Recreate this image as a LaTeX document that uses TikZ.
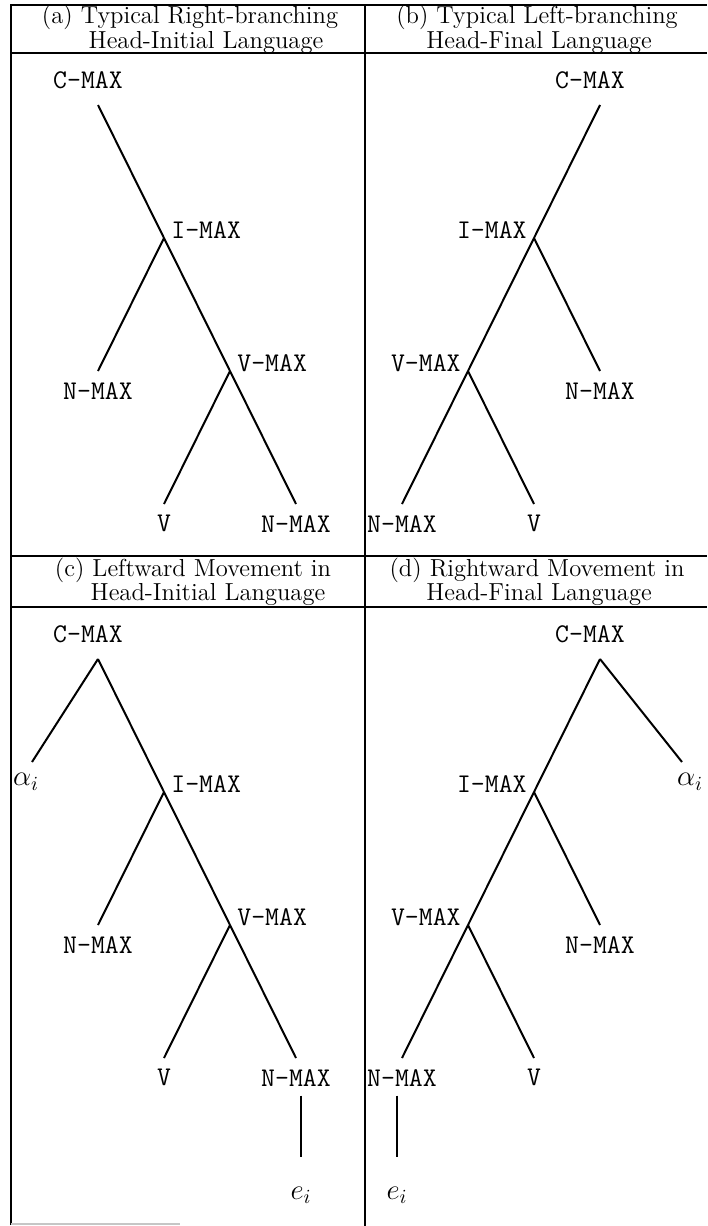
\documentclass[tikz,border=0pt]{standalone}
\usepackage{tikz}

\tikzset{
  tag/.style={font=\fontsize{13.5}{15}\selectfont\ttfamily, inner sep=1.5pt},
  mtag/.style={font=\fontsize{14}{16}\selectfont, inner sep=1.5pt},
  headtxt/.style={font=\fontsize{12.3}{11}\selectfont, inner sep=0pt, anchor=base},
  gridline/.style={line width=1pt},
  rootpt/.style={coordinate, label={[tag, label distance=6.5pt, xshift=-5pt]above:#1}},
  rjoin/.style={coordinate, label={[tag, anchor=base west, xshift=2pt]right:#1}},
  ljoin/.style={coordinate, label={[tag, anchor=base east, xshift=-2pt]left:#1}},
  leafpt/.style={coordinate, label={[tag, label distance=4pt]below:#1}}
}

\begin{document}
\begin{tikzpicture}[x=0.5pt, y=-0.5pt,
                    level distance=66.5pt, sibling distance=66pt,
                    edge from parent/.style={draw, line width=1pt}]
  \useasboundingbox (0,0) rectangle (707,1226);

  % table frame
  \draw[gridline] (11,1225) -- (11,5) -- (707,5);
  \draw[gridline] (365,5) -- (365,1226);
  \draw[gridline] (11,53) -- (707,53);
  \draw[gridline] (11,556) -- (707,556);
  \draw[gridline] (11,607) -- (707,607);
  \draw[gray!45, line width=0.6pt] (11,1224) -- (180,1224);

  % headings
  \node[headtxt] (ha1) at (190,24) {(a) Typical Right-branching};
  \node[headtxt] (ha2) at (206,48) {Head-Initial Language};
  \node[headtxt] (hb1) at (537,24) {(b) Typical Left-branching};
  \node[headtxt] (hb2) at (539,48) {Head-Final Language};
  \node[headtxt] (hc1) at (193,576) {(c) Leftward Movement in};
  \node[headtxt] (hc2) at (208,600) {Head-Initial Language};
  \node[headtxt] (hd1) at (537,576) {(d) Rightward Movement in};
  \node[headtxt] (hd2) at (539,600) {Head-Final Language};

  % (a)
  \node[rootpt=C-MAX] (cmaxa) at (98,105) {}
    child[missing] {}
    child {
      node[rjoin=I-MAX] (imaxa) {}
      child {
        node[leafpt=N-MAX] (nmaxa) {}
      }
      child {
        node[rjoin=V-MAX] (vmaxa) {}
        child {
          node[leafpt=V] (va) {}
        }
        child {
          node[leafpt=N-MAX] (objnmaxa) {}
        }
      }
    };

  % (b)
  \node[rootpt=C-MAX] (cmaxb) at (600,105) {}
    child {
      node[ljoin=I-MAX] (imaxb) {}
      child {
        node[ljoin=V-MAX] (vmaxb) {}
        child {
          node[leafpt=N-MAX] (objnmaxb) {}
        }
        child {
          node[leafpt=V] (vb) {}
        }
      }
      child {
        node[leafpt=N-MAX] (nmaxb) {}
      }
    }
    child[missing] {};

  % (c)
  \node[rootpt=C-MAX] (cmaxc) at (98,659) {}
    child[level distance=51.5pt] {
      node[coordinate, label={[mtag, label distance=4pt, xshift=-3pt]below:$\alpha_i$}] (alphac) {}
    }
    child {
      node[rjoin=I-MAX] (imaxc) {}
      child {
        node[leafpt=N-MAX] (nmaxc) {}
      }
      child {
        node[rjoin=V-MAX] (vmaxc) {}
        child {
          node[leafpt=V] (vc) {}
        }
        child {
          node[coordinate, label={[tag, label distance=4pt, name=objc]below:N-MAX}] (objnmaxc) {}
        }
      }
    };
  \node[mtag] (eic) at (301,1195) {$e_i$};
  \draw[line width=1pt, shorten <=3pt, shorten >=13pt] (eic |- objc.south) -- (eic);

  % (d)
  \node[rootpt=C-MAX] (cmaxd) at (600,659) {}
    child {
      node[ljoin=I-MAX] (imaxd) {}
      child {
        node[ljoin=V-MAX] (vmaxd) {}
        child {
          node[coordinate, label={[tag, label distance=4pt, name=objd]below:N-MAX}] (objnmaxd) {}
        }
        child {
          node[leafpt=V] (vd) {}
        }
      }
      child {
        node[leafpt=N-MAX] (nmaxd) {}
      }
    }
    child[level distance=51.5pt, xshift=8pt] {
      node[coordinate, label={[mtag, label distance=4pt, xshift=4pt]below:$\alpha_i$}] (alphad) {}
    };
  \node[mtag] (eid) at (397,1195) {$e_i$};
  \draw[line width=1pt, shorten <=3pt, shorten >=13pt] (eid |- objd.south) -- (eid);
\end{tikzpicture}
\end{document}
